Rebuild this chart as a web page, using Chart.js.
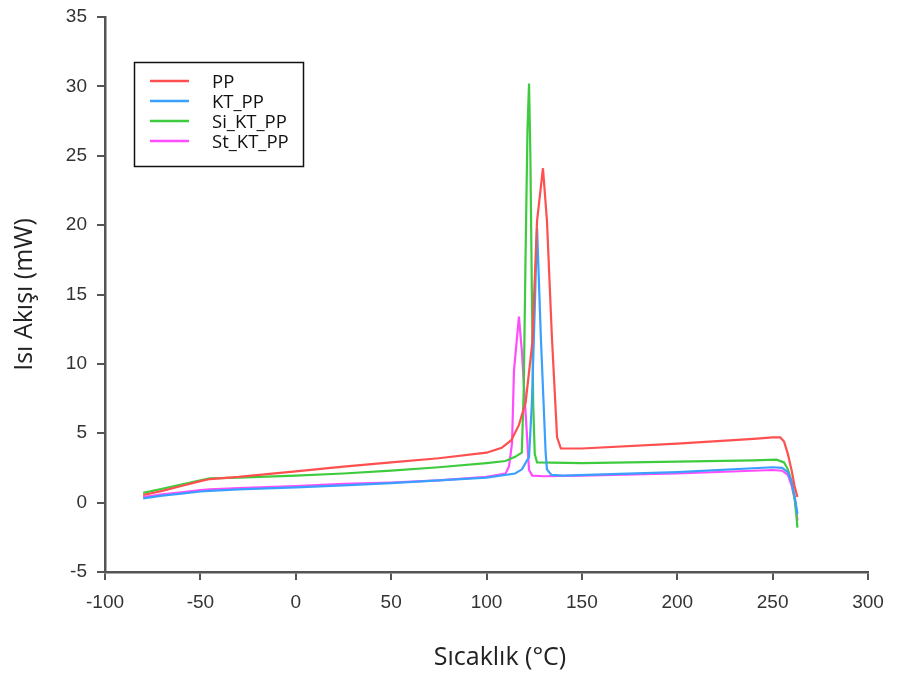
<!DOCTYPE html>
<html>
<head>
<meta charset="utf-8">
<script src="https://cdn.jsdelivr.net/npm/chart.js@4.4.1/dist/chart.umd.min.js"></script>
<style>
  html, body { margin: 0; padding: 0; background: #fff; }
  #wrap { width: 902px; height: 681px; }
</style>
</head>
<body>
<div id="wrap"><canvas id="dscChart" width="902" height="681"></canvas></div>
<script>
// Series labels
const seriesNames = ['PP', 'KT_PP', 'Si_KT_PP', 'St_KT_PP'];

// PP (red)
const ppTemp = [-80, -70, -60, -50, -45, -30, 0, 25, 50, 75, 100, 108, 113, 117, 120.5, 124, 126.5, 129.6, 131.7, 134.3, 137, 139, 150, 200, 240, 250, 254, 256, 258, 260, 261.5, 263];
const ppFlow = [0.55, 0.85, 1.2, 1.55, 1.7, 1.85, 2.25, 2.6, 2.9, 3.2, 3.6, 3.95, 4.5, 5.6, 7.2, 11.5, 20.3, 24.1, 20.3, 11.9, 4.7, 3.9, 3.9, 4.25, 4.6, 4.7, 4.7, 4.4, 3.5, 2.3, 1.2, 0.4];

// KT_PP (blue)
const ktTemp = [-80, -70, -60, -50, -45, -30, 0, 25, 50, 75, 100, 115, 118.6, 122.3, 123.8, 125.3, 126.5, 128.5, 131, 131.7, 134, 140, 200, 250, 255, 258, 260, 261.5, 263];
const ktFlow = [0.3, 0.5, 0.65, 0.8, 0.85, 0.95, 1.1, 1.25, 1.4, 1.6, 1.8, 2.1, 2.4, 3.3, 7.2, 14, 19.8, 11.9, 3.6, 2.4, 2.0, 1.95, 2.2, 2.55, 2.5, 2.2, 1.5, 0.5, -0.8];

// Si_KT_PP (green)
const siTemp = [-80, -70, -60, -50, -45, -30, 0, 25, 50, 75, 100, 110, 115, 118.5, 119.5, 120.5, 121.5, 122.3, 123, 123.8, 124.5, 125.3, 126.5, 150, 200, 240, 252, 256, 258, 260, 261.5, 262.5, 263];
const siFlow = [0.7, 1.0, 1.3, 1.6, 1.75, 1.8, 1.95, 2.1, 2.3, 2.55, 2.85, 3.0, 3.3, 3.6, 8, 18, 27, 30.2, 25, 15, 7, 3.5, 2.9, 2.85, 2.95, 3.05, 3.1, 2.9, 2.4, 1.5, 0.3, -1.0, -1.8];

// St_KT_PP (magenta)
const stTemp = [-80, -70, -60, -50, -45, -30, 0, 25, 50, 75, 100, 110, 111.8, 113.4, 114.4, 117, 118.6, 120.7, 122.3, 124, 130, 150, 200, 250, 255, 258, 260, 262, 263];
const stFlow = [0.4, 0.6, 0.75, 0.9, 0.95, 1.05, 1.2, 1.35, 1.45, 1.6, 1.85, 2.1, 2.6, 4.3, 9.5, 13.4, 10.8, 6, 2.35, 1.95, 1.9, 1.95, 2.1, 2.35, 2.3, 2.0, 1.2, 0, -1.3];

// X and Y axis ranges / tick step
const xTicks = { min: -100, max: 300, step: 50 };
const yTicks = { min: -5, max: 35, step: 5 };

const colors = ['#ff4f4f', '#3aa0ff', '#3ecb3e', '#ff4cff'];

function toPoints(xs, ys) {
    return xs.map((x, i) => ({ x: x, y: ys[i] }));
}

const seriesData = [
    toPoints(ppTemp, ppFlow),
    toPoints(ktTemp, ktFlow),
    toPoints(siTemp, siFlow),
    toPoints(stTemp, stFlow)
];

const titleFont = { family: '"Open Sans", "Noto Sans", sans-serif', size: 25 };

// Boxed legend + x title (the original title sits a bit right of the axis centre)
const boxLegend = {
    id: 'boxLegend',
    afterDraw(chart) {
        const c = chart.ctx;
        c.save();
        c.strokeStyle = '#111';
        c.lineWidth = 1.5;
        c.strokeRect(134.5, 62.5, 169, 104);
        c.font = '18.5px "Open Sans", "Noto Sans", sans-serif';
        c.textBaseline = 'middle';
        c.textAlign = 'left';
        seriesNames.forEach((name, i) => {
            const y = 81 + i * 20;
            c.strokeStyle = colors[i];
            c.lineWidth = 2.5;
            c.beginPath();
            c.moveTo(150, y);
            c.lineTo(189, y);
            c.stroke();
            c.fillStyle = '#111';
            c.fillText(name, 212, y + 2);
        });

        c.font = titleFont.size + 'px ' + titleFont.family;
        c.fillStyle = '#222';
        c.textAlign = 'center';
        c.fillText('Sıcaklık (°C)', 500, 658);
        c.restore();
    }
};

const axisColor = '#555';
const tickFont = { family: '"Liberation Sans", Arial, sans-serif', size: 19 };

const ctx = document.getElementById('dscChart').getContext('2d');
new Chart(ctx, {
    type: 'line',
    data: {
        datasets: seriesNames.map((name, i) => ({
            label: name,
            data: seriesData[i],
            borderColor: colors[i],
            backgroundColor: colors[i],
            borderWidth: 2.2,
            pointRadius: 0,
            tension: 0,
            fill: false
        }))
    },
    options: {
        responsive: false,
        animation: false,
        layout: { padding: { left: 0, right: 34, top: 17, bottom: 0 } },
        plugins: {
            legend: { display: false },
            tooltip: { enabled: false }
        },
        scales: {
            x: {
                type: 'linear',
                min: xTicks.min,
                max: xTicks.max,
                afterFit: s => { s.height = 109; s.paddingLeft = 0; s.paddingRight = 0; },
                ticks: { stepSize: xTicks.step, color: '#333', font: tickFont, padding: 11, maxRotation: 0 },
                grid: { drawOnChartArea: false, drawTicks: true, tickLength: 8, color: axisColor, lineWidth: 2 },
                border: { color: axisColor, width: 2.5 },
                title: { display: false }
            },
            y: {
                type: 'linear',
                min: yTicks.min,
                max: yTicks.max,
                afterFit: s => { s.width = 105; s.paddingTop = 0; s.paddingBottom = 0; },
                ticks: { stepSize: yTicks.step, color: '#333', font: tickFont, padding: 10 },
                grid: { drawOnChartArea: false, drawTicks: true, tickLength: 8, color: axisColor, lineWidth: 2 },
                border: { color: axisColor, width: 2.5 },
                title: { display: true, text: 'Isı Akışı (mW)', color: '#222', font: titleFont, padding: { top: 10, bottom: 0 } }
            }
        }
    },
    plugins: [boxLegend]
});
</script>
</body>
</html>
